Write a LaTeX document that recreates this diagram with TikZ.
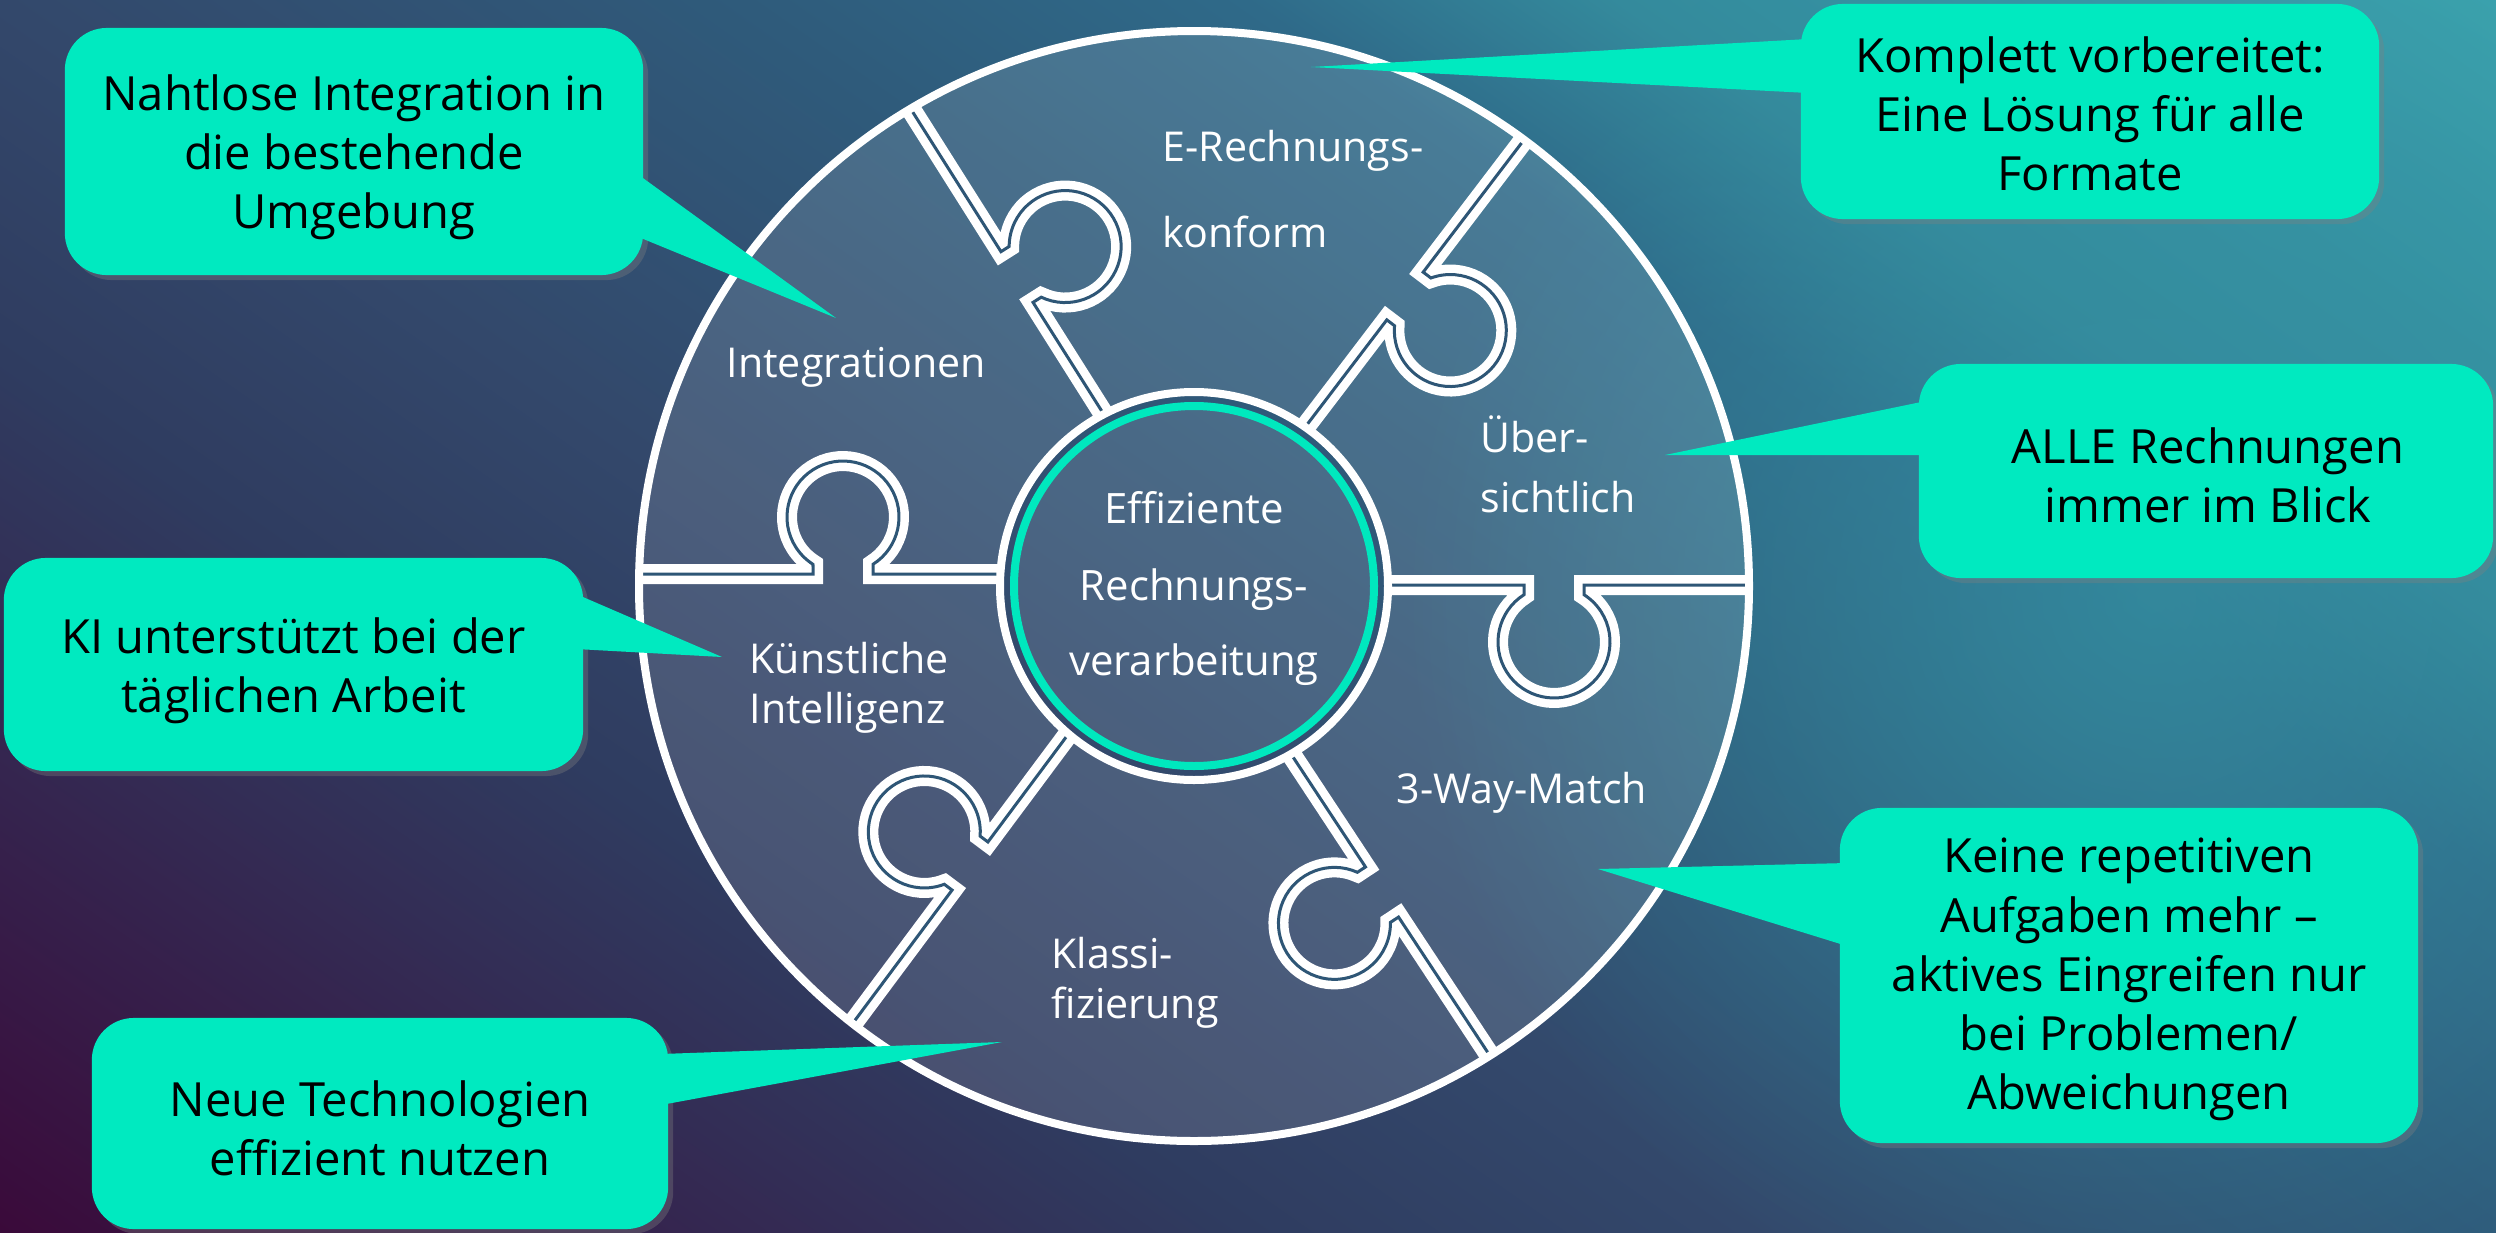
\documentclass[tikz,border=0pt]{standalone}
\usepackage{fontspec}
\setmainfont{Open Sans}
\usetikzlibrary{shadows,calc,fadings}
\definecolor{callteal}{RGB}{0,234,192}
\definecolor{ringteal}{RGB}{0,232,190}
\definecolor{gapdark}{RGB}{46,86,118}
\definecolor{glowcol}{RGB}{52,142,160}
\definecolor{bgA}{RGB}{58,10,58}
\definecolor{bgB}{RGB}{51,46,86}
\definecolor{bgC}{RGB}{47,60,96}
\definecolor{bgD}{RGB}{51,72,107}
\definecolor{bgE}{RGB}{47,91,123}
\definecolor{bgF}{RGB}{47,106,137}
\definecolor{bgG}{RGB}{52,138,156}
\definecolor{bgH}{RGB}{59,163,174}
\pgfdeclarehorizontalshading{bgshade}{100bp}{color(0bp)=(bgA); color(28.2bp)=(bgA); color(37.2bp)=(bgB); color(41bp)=(bgC); color(46.2bp)=(bgD); color(53.8bp)=(bgE); color(59bp)=(bgF); color(62.8bp)=(bgG); color(71.8bp)=(bgH); color(100bp)=(bgH)}
\tikzfading[name=glowfade, inner color=transparent!0, outer color=transparent!100]
\tikzset{
  callbox/.style={fill=callteal, rounded corners=0.42cm, inner sep=0pt,
    drop shadow={shadow xshift=0.05cm, shadow yshift=-0.05cm, opacity=0.35}},
  calltext/.style={align=center, text=black, font=\fontsize{13.4}{16.8}\selectfont, inner sep=0pt},
  pointer/.style={fill=callteal},
  lbl/.style={text=white, font=\fontsize{11.7}{14}\selectfont, anchor=base west, inner sep=0pt},
  ctr/.style={text=white, font=\fontsize{11.9}{14}\selectfont, anchor=base, inner sep=0pt},
  divwhite/.style={draw=white, line width=0.2cm, line join=miter},
  divgap/.style={draw=gapdark, line width=0.03cm, line join=miter},
  overlay/.style={fill=white, fill opacity=0.12}
}
\begin{document}
\begin{tikzpicture}[x=0.01cm,y=0.01cm]
\useasboundingbox (0,0) rectangle (2496,-1233);
% background
\begin{scope}
  \clip (0,0) rectangle (2496,-1233);
  \shade[shading=bgshade, shading angle=55] (-152,-2016) rectangle (2648,784);
  \fill[glowcol, path fading=glowfade, fill opacity=0.8] (2150,-600) circle (750);
\end{scope}
\coordinate (C) at (1194,-586);
% light overlay of pieces and inner disc
\path[overlay, even odd rule] (C) circle (555) (C) circle (194);
\path[overlay] (C) circle (182);
% dividers with tabs
\begin{scope}[even odd rule]
  \clip (C) circle (555) (C) circle (194);
  \foreach \mx/\my/\ang in {1554/-585/0, 1405/-296/52.7, 1017/-277/122.3, 843/-574/180, 970/-866/233.3, 1382/-892/303.4}{
    \begin{scope}[shift={(\mx,\my)}, rotate=\ang]
      \draw[divwhite] (-260,0) -- (-30,0) -- (-30,-9.7) arc[start angle=122.4, end angle=417.6, radius=56] -- (30,0) -- (300,0);
      \draw[divgap] (-260,0) -- (-30,0) -- (-30,-9.7) arc[start angle=122.4, end angle=417.6, radius=56] -- (30,0) -- (300,0);
    \end{scope}
  }
\end{scope}
% circles
\draw[white, line width=0.08cm] (C) circle (555);
\draw[white, line width=0.08cm] (C) circle (194);
\draw[ringteal, line width=0.08cm] (C) circle (180);
% piece labels
\node[lbl] (lE1) at (1162,-161) {E-Rechnungs-};
\node[lbl] (lE2) at (1162,-247) {konform};
\node[lbl] (lInt) at (726,-377) {Integrationen};
\node[lbl] (lU1) at (1480,-452) {Über-};
\node[lbl] (lU2) at (1480,-512) {sichtlich};
\node[lbl] (lK1) at (749,-673) {Künstliche};
\node[lbl] (lK2) at (749,-723) {Intelligenz};
\node[lbl] (l3W) at (1396,-803) {3-Way-Match};
\node[lbl] (lC1) at (1051,-968) {Klassi-};
\node[lbl] (lC2) at (1051,-1018) {fizierung};
% centre
\node[ctr] (c1) at (1194,-523) {Effiziente};
\node[ctr] (c2) at (1194,-600) {Rechnungs-};
\node[ctr] (c3) at (1194,-675) {verarbeitung};
% callout boxes
\node[callbox, minimum width=5.78cm, minimum height=2.47cm] (b1) at (354,-151.5) {};
\node[callbox, minimum width=5.79cm, minimum height=2.13cm] (b2) at (293.5,-664.5) {};
\node[callbox, minimum width=5.76cm, minimum height=2.11cm] (b3) at (380,-1123.5) {};
\node[callbox, minimum width=5.78cm, minimum height=2.15cm] (b4) at (2090,-111.5) {};
\node[callbox, minimum width=5.74cm, minimum height=2.14cm] (b5) at (2206,-471) {};
\node[callbox, minimum width=5.78cm, minimum height=3.35cm] (b6) at (2129,-975.5) {};
% callout texts
\node[calltext] (b1t) at ($(b1)+(0,-6)$) {Nahtlose Integration in\\die bestehende\\Umgebung};
\node[calltext] (b2t) at ($(b2)+(0,-6)$) {KI unterstützt bei der\\täglichen Arbeit};
\node[calltext] (b3t) at ($(b3)+(0,-5)$) {Neue Technologien\\effizient nutzen};
\node[calltext] (b4t) at ($(b4)+(0,-2)$) {Komplett vorbereitet:\\Eine Lösung für alle\\Formate};
\node[calltext] (b5t) at ($(b5)+(2,-4)$) {ALLE Rechnungen\\immer im Blick};
\node[calltext] (b6t) at ($(b6)+(0,-4)$) {Keine repetitiven\\Aufgaben mehr –\\aktives Eingreifen nur\\bei Problemen/\\Abweichungen};
% pointer tips
\coordinate (t1) at (836,-318);
\coordinate (t2) at (722,-657);
\coordinate (t3) at (1002,-1042);
\coordinate (t4) at (1311,-67);
\coordinate (t5) at (1665,-455);
\coordinate (t6) at (1598,-869);
\fill[pointer] (636,-173) -- (t1) -- (636,-236) -- cycle;
\fill[pointer] (576,-594) -- (t2) -- (576,-649) -- cycle;
\fill[pointer] (661,-1054) -- (t3) -- (661,-1105) -- cycle;
\fill[pointer] (1808,-39) -- (t4) -- (1808,-93) -- cycle;
\fill[pointer] (1926,-401) -- (t5) -- (1926,-455) -- cycle;
\fill[pointer] (1847,-863) -- (t6) -- (1847,-946) -- cycle;
\end{tikzpicture}
\end{document}
